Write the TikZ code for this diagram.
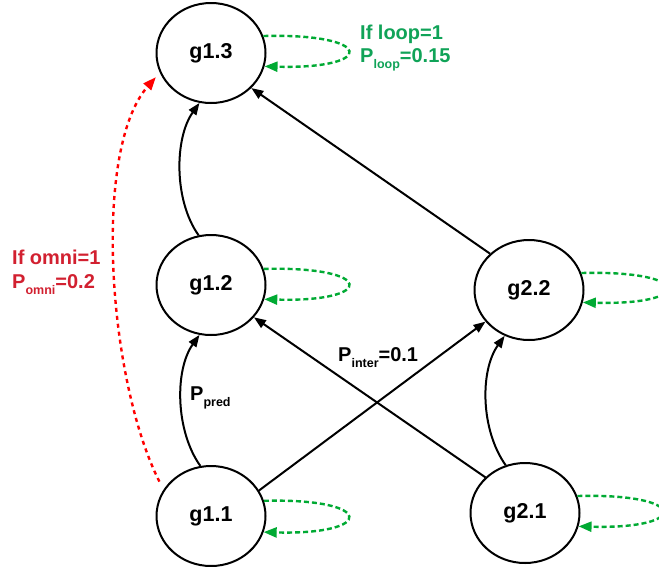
\documentclass[tikz,border=0pt]{standalone}
\usepackage{fontspec}
\setmainfont{Liberation Sans}
\usetikzlibrary{shapes.geometric,arrows.meta}
\definecolor{loopgreen}{RGB}{0,170,51}
\definecolor{txtgreen}{RGB}{16,163,88}
\definecolor{txtred}{RGB}{210,32,48}
\definecolor{omnired}{RGB}{255,0,0}
\newcommand{\subtxt}[1]{\raisebox{-6pt}{\fontsize{12.5}{12.5}\selectfont #1}}
\begin{document}
\begin{tikzpicture}[x=1pt,y=-1pt,
  gnode/.style={ellipse,draw=black,line width=2pt,minimum width=109pt,minimum height=100pt,inner sep=0pt,font=\fontsize{21.5}{21.5}\selectfont\bfseries},
  edge/.style={line width=2pt,-{Triangle[length=12pt,width=9pt]}},
  selfloop/.style={draw=loopgreen,line width=2.4pt,dash pattern=on 5pt off 3pt,-{Triangle[length=13pt,width=10pt]},fill=none},
  omniedge/.style={draw=omnired,line width=2.4pt,dash pattern=on 4pt off 4pt,-{Triangle[length=13pt,width=10pt]},shorten <=9pt,shorten >=6pt},
  lbl/.style={anchor=base west,inner sep=0pt,font=\fontsize{20}{20}\selectfont\bfseries}]
\useasboundingbox (0,0) rectangle (659,566);
\clip (0,0) rectangle (659,566);
\fill[white] (0,0) rectangle (659,566);
\node[gnode] (g13) at (211,53) {g1.3};
\node[gnode] (g12) at (211,285) {g1.2};
\node[gnode] (g11) at (211,516) {g1.1};
\node[gnode] (g22) at (529,290) {g2.2};
\node[gnode] (g21) at (525,513) {g2.1};
% black edges
\draw[edge] (g11.102) .. controls +(-25,-35) and +(-25,35) .. (g12.257);
\draw[edge] (g12.104) .. controls +(-25,-35) and +(-25,35) .. (g13.257);
\draw[edge] (g21.112) .. controls +(-25,-35) and +(-25,35) .. (g22.242);
\draw[edge] (g22.137) -- (g13.-41);
\draw[edge] (g21.138) -- (g12.-37);
\draw[edge] (g11.28) -- (g22.216);
% self loops
\draw[selfloop] (g13.18) .. controls +(112,-3) and +(112,3) .. (g13.-14);
\draw[selfloop] (g12.17) .. controls +(112,-3) and +(112,3) .. (g12.-15);
\draw[selfloop] (g11.16) .. controls +(112,-3) and +(112,3) .. (g11.-17);
\draw[selfloop] (g22.18) .. controls +(112,-3) and +(112,3) .. (g22.-13);
\draw[selfloop] (g21.18) .. controls +(112,-3) and +(112,3) .. (g21.-14);
% omni edge
\draw[omniedge] (g11.151) .. controls (108,380) and (92,150) .. (g13.201);
% labels
\node[lbl,text=txtgreen] (loopA) at (360,39) {If loop=1};
\node[lbl,text=txtgreen] (loopB) at (360,62) {P\subtxt{loop}=0.15};
\node[lbl,text=txtred] (omniA) at (12,264) {If omni=1};
\node[lbl,text=txtred] (omniB) at (12,288) {P\subtxt{omni}=0.2};
\node[lbl] (pred) at (190,400) {P\subtxt{pred}};
\node[lbl] (inter) at (338,361) {P\subtxt{inter}=0.1};
\end{tikzpicture}
\end{document}
